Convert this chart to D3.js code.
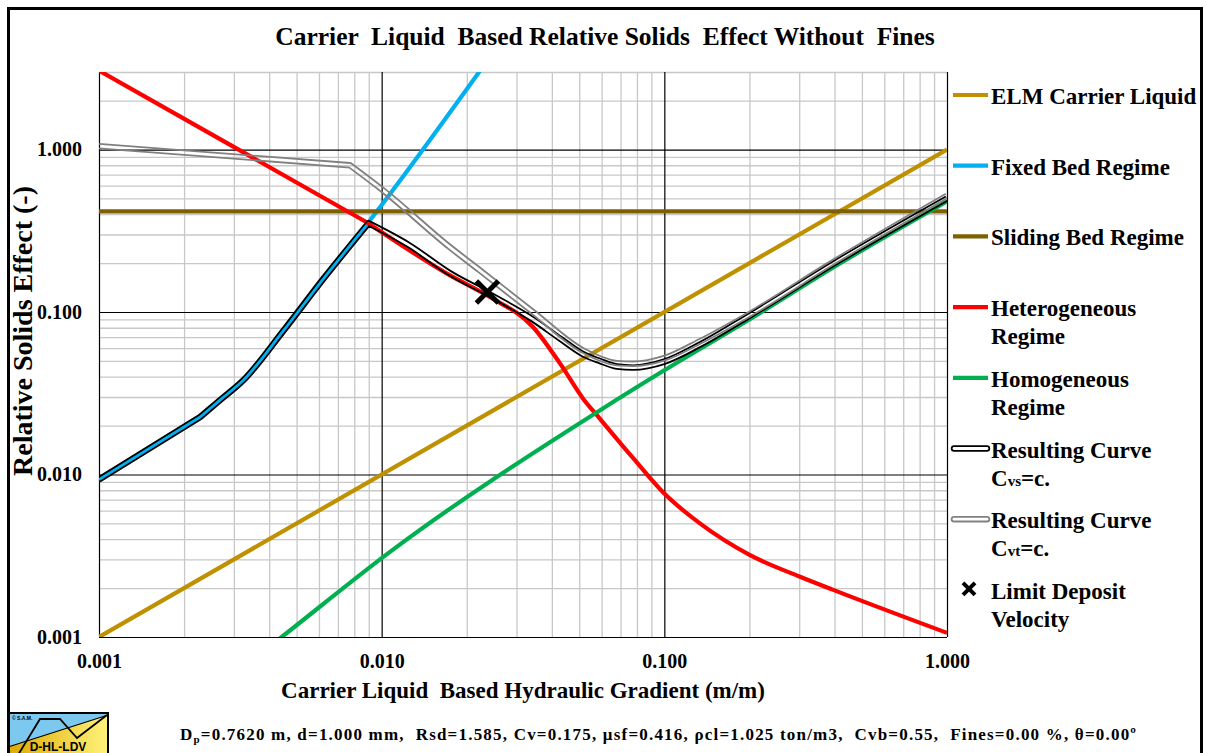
<!DOCTYPE html>
<html><head><meta charset="utf-8">
<script src="https://cdn.jsdelivr.net/npm/d3@7"></script>
<style>
body{margin:0;background:#fff}
svg text{font-family:"Liberation Serif","Times New Roman",serif;font-weight:bold;white-space:pre;fill:#000}
</style></head><body>
<svg id="c" width="1207" height="753"></svg>
<script>
// ---------- data ----------
const xTicks = [0.001, 0.01, 0.1, 1];
const yTicks = [0.001, 0.01, 0.1, 1];
const xMinor = [0.002,0.003,0.004,0.005,0.006,0.007,0.008,0.009,0.02,0.03,0.04,0.05,0.06,0.07,0.08,0.09,0.2,0.3,0.4,0.5,0.6,0.7,0.8,0.9];
const yMinor = [0.002,0.003,0.004,0.005,0.006,0.007,0.008,0.009,0.02,0.03,0.04,0.05,0.06,0.07,0.08,0.09,0.2,0.3,0.4,0.5,0.6,0.7,0.8,0.9,2,3];

const elmX = [0.001, 1];
const elmY = [0.001, 1];
const fixedX = [0.001, 0.00228, 0.00268, 0.00324, 0.0045, 0.00622, 0.00898, 0.0223];
const fixedY = [0.0093, 0.0226, 0.0287, 0.038, 0.077, 0.16, 0.357, 3.06];
const slidingX = [0.001, 1];
const slidingY = [0.416, 0.416];
const heteroX = [0.001, 0.00885, 0.01746, 0.02415, 0.0343, 0.0428, 0.0516, 0.0591, 0.0776, 0.1, 0.1336, 0.201, 0.302, 0.396, 1.0];
const heteroY = [3.06, 0.357, 0.168, 0.1236, 0.0809, 0.0481, 0.0293, 0.0221, 0.0126, 0.00763, 0.0050, 0.00319, 0.00235, 0.00195, 0.00106];
const homogX = [0.004, 0.00443, 0.0107, 0.0591, 0.1, 0.2, 0.4, 1];
const homogY = [0.00087, 0.001, 0.00334, 0.0248, 0.0438, 0.09, 0.19, 0.48];
const cvsX = [0.001, 0.00228, 0.00268, 0.00324, 0.0045, 0.00622, 0.00898, 0.0125, 0.01746, 0.02415, 0.0343, 0.0428, 0.0516, 0.0591, 0.0679, 0.0776, 0.1, 0.1336, 0.2, 0.4, 1];
const cvsY = [0.0093, 0.0226, 0.0287, 0.038, 0.077, 0.16, 0.352, 0.258, 0.173, 0.128, 0.09, 0.0686, 0.055, 0.05, 0.0462, 0.0455, 0.0495, 0.063, 0.095, 0.2, 0.5];
const cvtX = [0.001, 0.00773, 0.01, 0.01746, 0.0223, 0.0343, 0.0516, 0.0679, 0.0776, 0.1, 0.1336, 0.2, 0.4, 1];
const cvtY = [1.05, 0.80, 0.57, 0.25, 0.18, 0.1, 0.058, 0.0485, 0.048, 0.052, 0.066, 0.097, 0.205, 0.52];
const ldvX = [0.02366];
const ldvY = [0.1328];

const legendLabels = [["ELM Carrier Liquid"],["Fixed Bed Regime"],["Sliding Bed Regime"],["Heterogeneous","Regime"],["Homogeneous","Regime"],["Resulting Curve","Cvs=c."],["Resulting Curve","Cvt=c."],["Limit Deposit","Velocity"]];
const colors = {elm:"#BF9000", fixed:"#00B0F0", sliding:"#7F6000", hetero:"#FF0000", homog:"#00B050", cvs:"#000000", cvt:"#808080"};

// ---------- chart ----------
const W = 1207, H = 753;
const L = 99, R = 947, T = 72, B = 637;
const svg = d3.select("#c");
const defs = svg.append("defs");
svg.append("rect").attr("width",W).attr("height",H).attr("fill","#fff");

const x = d3.scaleLog().domain([0.001, 1]).range([L, R]);
const y = d3.scaleLog().domain([0.001, 3]).range([B, T]);

// grid
const gMinX = svg.append("g").attr("transform",`translate(0,${B})`)
  .call(d3.axisBottom(x).tickValues(xMinor).tickSize(-(B-T)).tickFormat(""));
const gMinY = svg.append("g").attr("transform",`translate(${L},0)`)
  .call(d3.axisLeft(y).tickValues(yMinor).tickSize(-(R-L)).tickFormat(""));
[gMinX,gMinY].forEach(g=>{g.select(".domain").remove(); g.selectAll("line").attr("stroke","#c8c8c8").attr("stroke-width",1.3);});
const gMajX = svg.append("g").attr("transform",`translate(0,${B})`)
  .call(d3.axisBottom(x).tickValues(xTicks).tickSize(-(B-T)).tickFormat(""));
const gMajY = svg.append("g").attr("transform",`translate(${L},0)`)
  .call(d3.axisLeft(y).tickValues(yTicks).tickSize(-(R-L)).tickFormat(""));
[gMajX,gMajY].forEach(g=>{g.select(".domain").remove(); g.selectAll("line").attr("stroke","#000").attr("stroke-width",1.2);});

// tick labels
const fmt = d3.format(".3f");
const axX = svg.append("g").attr("transform",`translate(0,${B})`)
  .call(d3.axisBottom(x).tickValues(xTicks).tickFormat(fmt).tickSize(0).tickPadding(17));
const axY = svg.append("g").attr("transform",`translate(${L},0)`)
  .call(d3.axisLeft(y).tickValues(yTicks).tickFormat(fmt).tickSize(0).tickPadding(17));
[axX,axY].forEach(g=>{g.select(".domain").remove(); g.attr("font-size",20).attr("font-family",null); g.selectAll("text").style("font-size","20px");});

// clip
defs.append("clipPath").attr("id","plotclip").append("rect").attr("x",L).attr("y",T).attr("width",R-L).attr("height",B-T);
const plot = svg.append("g").attr("clip-path","url(#plotclip)");

const lineS = d3.line().x(d=>x(d[0])).y(d=>y(d[1])).curve(d3.curveMonotoneX);
const zip = (a,b)=>a.map((v,i)=>[v,b[i]]);
// smooth pieces, with sharp corners at the given indices
function pieces(data, corners){
  const cuts = [0, ...corners, data.length-1];
  let d = "";
  for (let i=0;i<cuts.length-1;i++){
    const p = lineS(data.slice(cuts[i], cuts[i+1]+1));
    d += i===0 ? p : p.replace(/^M/,"L");
  }
  return d;
}

function simple(parent, dstr, color, w){
  parent.append("path").attr("d",dstr).attr("fill","none").attr("stroke",color).attr("stroke-width",w).attr("stroke-linejoin","round");
}
let maskN = 0;
function doubleLine(parent, dstr, color, cap){
  const id = "dm"+(maskN++);
  const m = defs.append("mask").attr("id",id).attr("maskUnits","userSpaceOnUse").attr("x",0).attr("y",0).attr("width",W).attr("height",H);
  m.append("rect").attr("width",W).attr("height",H).attr("fill","white");
  m.append("path").attr("d",dstr).attr("fill","none").attr("stroke","black").attr("stroke-width",2.8).attr("stroke-linecap",cap).attr("stroke-linejoin","round");
  parent.append("path").attr("d",dstr).attr("fill","none").attr("stroke",color).attr("stroke-width",6.4).attr("stroke-linecap",cap).attr("stroke-linejoin","round").attr("mask",`url(#${id})`);
}

simple(plot, pieces(zip(elmX,elmY),[]), colors.elm, 4.2);
simple(plot, pieces(zip(fixedX,fixedY),[1]), colors.fixed, 4.2);
simple(plot, pieces(zip(slidingX,slidingY),[]), colors.sliding, 4.2);
simple(plot, pieces(zip(heteroX,heteroY),[1]), colors.hetero, 4.2);
simple(plot, pieces(zip(homogX,homogY),[]), colors.homog, 4.2);
doubleLine(plot, pieces(zip(cvsX,cvsY),[1,6]), colors.cvs, "butt");
doubleLine(plot, pieces(zip(cvtX,cvtY),[1]), colors.cvt, "butt");

// LDV marker
function xMark(parent, cx, cy, s, w){
  parent.append("path").attr("d",`M${cx-s},${cy-s}L${cx+s},${cy+s}M${cx-s},${cy+s}L${cx+s},${cy-s}`)
    .attr("stroke","#000").attr("stroke-width",w).attr("fill","none");
}
zip(ldvX,ldvY).forEach(d=>xMark(svg, x(d[0]), y(d[1]), 11, 5));

// title & axis titles
svg.append("text").attr("x",605).attr("y",45).attr("text-anchor","middle").style("font-size","25.5px")
  .text("Carrier  Liquid  Based Relative Solids  Effect Without  Fines");
svg.append("text").attr("x",(L+R)/2).attr("y",698).attr("text-anchor","middle").style("font-size","23px")
  .text("Carrier Liquid  Based Hydraulic Gradient (m/m)");
svg.append("text").attr("transform","translate(32,331) rotate(-90)").attr("text-anchor","middle").style("font-size","28px")
  .text("Relative Solids Effect (-)");

// legend
const lg = svg.append("g");
const keys = ["elm","fixed","sliding","hetero","homog","cvs","cvt","ldv"];
keys.forEach((k,i)=>{
  const cy = 95 + i*70.7;
  if (k==="cvs"||k==="cvt") {
    doubleLine(lg, `M${954},${cy}L${987},${cy}`, colors[k], "round");
  } else if (k==="ldv") {
    xMark(lg, 969, cy-1, 6, 4);
  } else {
    lg.append("line").attr("x1",953).attr("x2",988).attr("y1",cy).attr("y2",cy).attr("stroke",colors[k]).attr("stroke-width",4.2);
  }
  legendLabels[i].forEach((s,j)=>{
    const t = lg.append("text").attr("x",991).attr("y",cy+9+j*28).style("font-size","23px");
    const m = s.match(/^C(vs|vt)(=c\.)$/);
    if (m) {
      t.append("tspan").text("C");
      t.append("tspan").text(m[1]).style("font-size","15px");
      t.append("tspan").text(m[2]);
    } else t.text(s);
  });
});

// footer
const ft = svg.append("text").attr("x",180).attr("y",740).style("font-size","17px").style("letter-spacing","1.2px");
ft.append("tspan").text("D");
ft.append("tspan").text("p").style("font-size","11px").attr("dy",3);
ft.append("tspan").text("=0.7620 m, d=1.000 mm,  Rsd=1.585, Cv=0.175, \u03bcsf=0.416, \u03c1cl=1.025 ton/m3,  Cvb=0.55,  Fines=0.00 %, \u03b8=0.00\u00ba").attr("dy",-3);

// logo
const lo = svg.append("g").attr("transform","translate(8,713)");
const gr = defs.append("linearGradient").attr("id","lgy").attr("x1","0").attr("x2","1").attr("y1","0").attr("y2","0");
gr.append("stop").attr("offset","0").attr("stop-color","#DDAA00");
gr.append("stop").attr("offset","1").attr("stop-color","#FFF27A");
lo.append("rect").attr("width",100).attr("height",50).attr("fill","url(#lgy)");
lo.append("path").attr("d","M0,0H100V2L0,34Z").attr("fill","#7CC8EE");
lo.append("path").attr("d","M0,34L100,2").attr("stroke","#000").attr("stroke-width",1.2).attr("fill","none");
lo.append("path").attr("d","M10,42L32,6L52,6L69,25L99,2").attr("stroke","#000").attr("stroke-width",1.8).attr("fill","none");
lo.append("text").attr("x",4).attr("y",7).text("\u00a9 S.A.M.").style("font-size","5px").style("font-family","Liberation Sans,Arial,sans-serif");
lo.append("text").attr("x",50).attr("y",38).attr("text-anchor","middle").text("D-HL-LDV").style("font-size","12px").style("font-family","Liberation Sans,Arial,sans-serif");
lo.append("rect").attr("width",100).attr("height",50).attr("fill","none").attr("stroke","#000").attr("stroke-width",2);

// outer frame
svg.append("rect").attr("x",8.5).attr("y",8.5).attr("width",1193).attr("height",800).attr("fill","none").attr("stroke","#000").attr("stroke-width",3);
</script>
</body></html>
